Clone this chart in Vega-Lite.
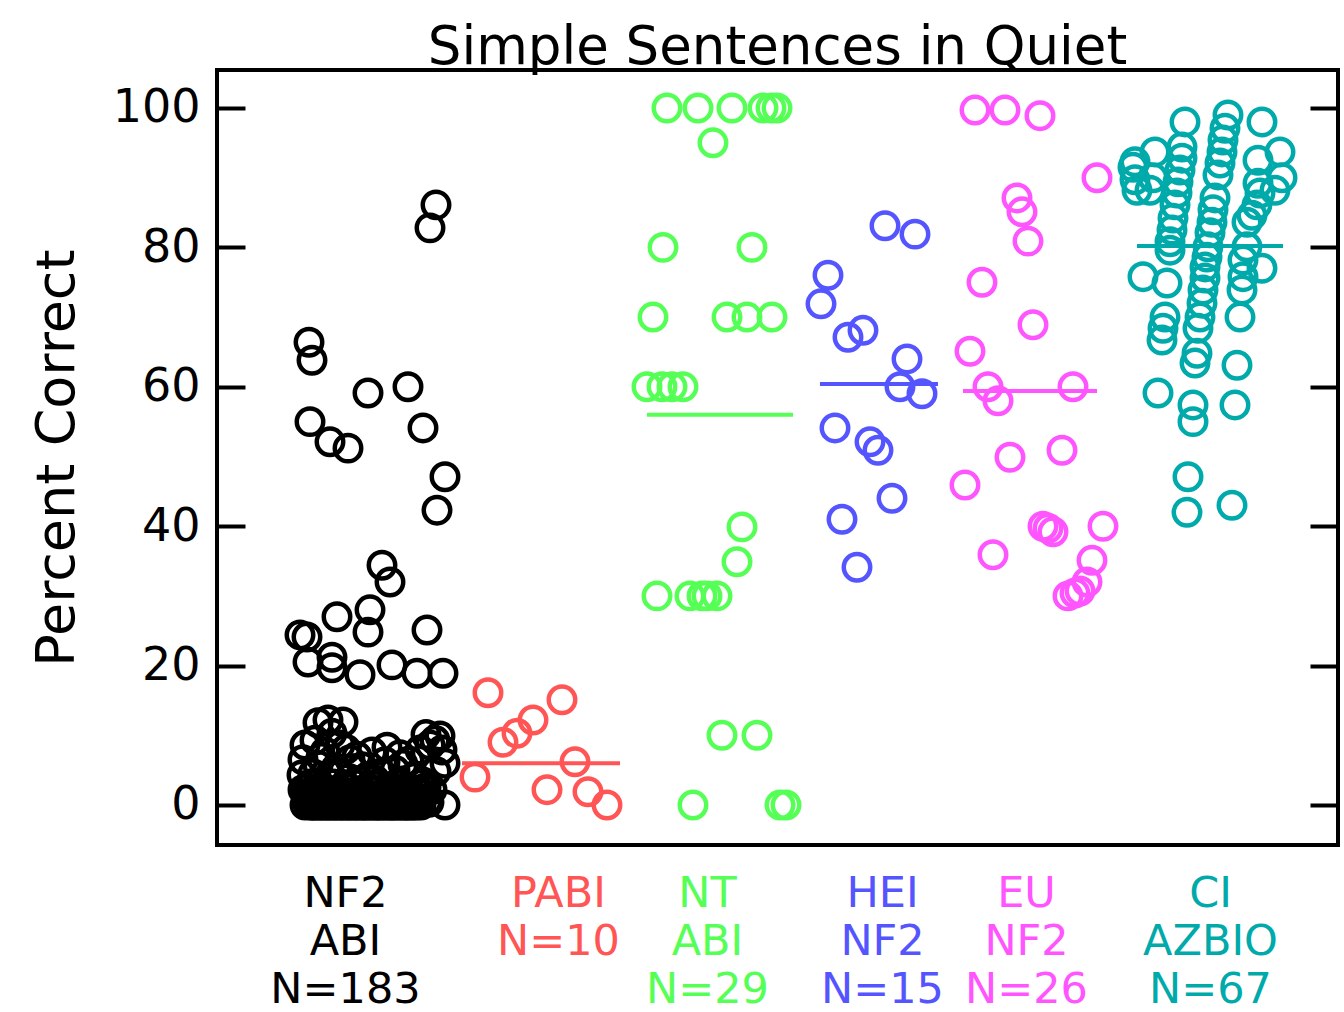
{
"$schema": "https://vega.github.io/schema/vega-lite/v6.json",
"width": 1121, "height": 775,
"autosize": "none",
"padding": {"left": 217, "top": 70, "right": 6, "bottom": 167},
"background": "white",
"config": {"view": {"stroke": "black", "strokeWidth": 4}, "font": "DejaVu Sans"},
"title": {"text": "Simple Sentences in Quiet", "fontSize": 53, "fontWeight": "normal", "color": "black", "anchor": "middle", "offset": -5, "letterSpacing": 1, "font": "DejaVu Sans"},
"datasets": {
"pts": [
{"g":"A","x":21.9,"y":86.1},{"g":"A","x":21.3,"y":82.8},{"g":"A","x":9.2,"y":66.4},{"g":"A","x":9.5,"y":63.8},{"g":"A","x":15.1,"y":59.1},{"g":"A","x":19.1,"y":60.0},{"g":"A","x":9.3,"y":55.0},{"g":"A","x":11.3,"y":52.1},{"g":"A","x":13.1,"y":51.2},{"g":"A","x":20.6,"y":54.1},{"g":"A","x":22.8,"y":47.1},{"g":"A","x":22.0,"y":42.3},
{"g":"A","x":16.5,"y":34.4},{"g":"A","x":17.3,"y":32.0},{"g":"A","x":15.3,"y":28.0},{"g":"A","x":12.0,"y":27.0},{"g":"A","x":15.1,"y":24.8},{"g":"A","x":21.0,"y":25.1},{"g":"A","x":9.0,"y":24.1},{"g":"A","x":8.3,"y":24.4},{"g":"A","x":9.1,"y":20.5},{"g":"A","x":11.5,"y":21.2},{"g":"A","x":11.5,"y":19.7},{"g":"A","x":14.3,"y":18.7},{"g":"A","x":17.5,"y":20.1},{"g":"A","x":20.0,"y":18.9},{"g":"A","x":22.6,"y":18.9},
{"g":"A","x":12.6,"y":11.9},{"g":"A","x":11.1,"y":12.2},{"g":"A","x":10.1,"y":11.8},{"g":"A","x":21.8,"y":9.3},{"g":"A","x":22.5,"y":7.9},{"g":"A","x":22.8,"y":6.0},{"g":"A","x":16.8,"y":6.2},{"g":"A","x":14.5,"y":5.5},{"g":"A","x":19.8,"y":4.0},{"g":"A","x":22.8,"y":0},
{"g":"A","x":8.8,"y":8.6},{"g":"A","x":8.6,"y":6.5},{"g":"A","x":8.5,"y":4.3},{"g":"A","x":8.6,"y":2.2},{"g":"A","x":8.8,"y":0},
{"g":"A","x":9.8,"y":9.3},{"g":"A","x":10.8,"y":7.6},{"g":"A","x":12.3,"y":8.6},{"g":"A","x":13.3,"y":6.5},{"g":"A","x":15.5,"y":7.6},{"g":"A","x":18.3,"y":7.2},{"g":"A","x":20.3,"y":7.9},{"g":"A","x":21.3,"y":8.6},{"g":"A","x":17.8,"y":5.0},{"g":"A","x":15.8,"y":3.6},{"g":"A","x":11.3,"y":4.3},{"g":"A","x":10.1,"y":5.7},{"g":"A","x":12.8,"y":2.9},{"g":"A","x":14.3,"y":1.9},{"g":"A","x":16.3,"y":1.4},{"g":"A","x":18.3,"y":2.9},{"g":"A","x":20.3,"y":1.9},{"g":"A","x":21.5,"y":2.2},{"g":"A","x":9.5,"y":1.4},{"g":"A","x":10.8,"y":2.2},{"g":"A","x":12.1,"y":1.1},
{"g":"A","x":9.3,"y":0},{"g":"A","x":9.7,"y":0},{"g":"A","x":10.2,"y":0},{"g":"A","x":10.6,"y":0},{"g":"A","x":11.1,"y":0},{"g":"A","x":11.6,"y":0},{"g":"A","x":12.0,"y":0},{"g":"A","x":12.5,"y":0},{"g":"A","x":13.0,"y":0},{"g":"A","x":13.4,"y":0},{"g":"A","x":13.9,"y":0},{"g":"A","x":14.4,"y":0},{"g":"A","x":14.8,"y":0},{"g":"A","x":15.3,"y":0},{"g":"A","x":15.8,"y":0},{"g":"A","x":16.2,"y":0},{"g":"A","x":16.7,"y":0},{"g":"A","x":17.2,"y":0},{"g":"A","x":17.6,"y":0},{"g":"A","x":18.1,"y":0},{"g":"A","x":18.6,"y":0},{"g":"A","x":19.0,"y":0},{"g":"A","x":19.5,"y":0},{"g":"A","x":20.0,"y":0},{"g":"A","x":20.4,"y":0},
{"g":"A","x":9.5,"y":0},{"g":"A","x":9.9,"y":0},{"g":"A","x":10.4,"y":0},{"g":"A","x":10.9,"y":0},{"g":"A","x":11.3,"y":0},{"g":"A","x":11.8,"y":0},{"g":"A","x":12.3,"y":0},{"g":"A","x":12.7,"y":0},{"g":"A","x":13.2,"y":0},{"g":"A","x":13.7,"y":0},{"g":"A","x":14.1,"y":0},{"g":"A","x":14.6,"y":0},{"g":"A","x":15.0,"y":0},{"g":"A","x":15.5,"y":0},{"g":"A","x":16.0,"y":0},{"g":"A","x":16.4,"y":0},{"g":"A","x":16.9,"y":0},{"g":"A","x":17.4,"y":0},{"g":"A","x":17.8,"y":0},{"g":"A","x":18.3,"y":0},{"g":"A","x":18.8,"y":0},{"g":"A","x":19.2,"y":0},{"g":"A","x":19.7,"y":0},
{"g":"A","x":9.0,"y":0.5},{"g":"A","x":10.0,"y":0.5},{"g":"A","x":11.0,"y":0.5},{"g":"A","x":12.0,"y":0.5},{"g":"A","x":13.0,"y":0.5},{"g":"A","x":14.0,"y":0.5},{"g":"A","x":15.0,"y":0.5},{"g":"A","x":16.0,"y":0.5},{"g":"A","x":17.0,"y":0.5},{"g":"A","x":18.0,"y":0.5},{"g":"A","x":19.0,"y":0.5},{"g":"A","x":20.0,"y":0.5},{"g":"A","x":21.0,"y":0.5},
{"g":"A","x":9.2,"y":1},{"g":"A","x":10.5,"y":1},{"g":"A","x":11.8,"y":1},{"g":"A","x":13.1,"y":1},{"g":"A","x":14.6,"y":1},{"g":"A","x":15.9,"y":1},{"g":"A","x":17.3,"y":1},{"g":"A","x":18.7,"y":1},{"g":"A","x":20.1,"y":1},
{"g":"A","x":8.9,"y":1.5},{"g":"A","x":10.2,"y":1.5},{"g":"A","x":11.5,"y":1.5},{"g":"A","x":13.0,"y":1.5},{"g":"A","x":14.8,"y":1.5},{"g":"A","x":16.6,"y":1.5},{"g":"A","x":18.0,"y":1.5},{"g":"A","x":19.4,"y":1.5},{"g":"A","x":20.7,"y":1.5},
{"g":"A","x":9.6,"y":2},{"g":"A","x":11.0,"y":2},{"g":"A","x":12.5,"y":2},{"g":"A","x":14.0,"y":2},{"g":"A","x":15.4,"y":2},{"g":"A","x":16.9,"y":2},{"g":"A","x":18.5,"y":2},{"g":"A","x":19.9,"y":2},
{"g":"A","x":9.0,"y":2.5},{"g":"A","x":10.6,"y":2.5},{"g":"A","x":12.9,"y":2.5},{"g":"A","x":15.1,"y":2.5},{"g":"A","x":17.5,"y":2.5},{"g":"A","x":19.1,"y":2.5},{"g":"A","x":20.9,"y":2.5},
{"g":"A","x":9.4,"y":3},{"g":"A","x":11.6,"y":3},{"g":"A","x":13.7,"y":3},{"g":"A","x":16.0,"y":3},{"g":"A","x":18.0,"y":3},{"g":"A","x":20.3,"y":3},
{"g":"A","x":9.6,"y":4.5},{"g":"A","x":11.9,"y":5.3},{"g":"A","x":13.2,"y":3.8},{"g":"A","x":16.4,"y":4.6},{"g":"A","x":18.6,"y":5.8},{"g":"A","x":20.6,"y":3.3},{"g":"A","x":21.9,"y":4.8},{"g":"A","x":10.4,"y":6.8},{"g":"A","x":14.0,"y":7.0},{"g":"A","x":17.0,"y":8.3},{"g":"A","x":19.2,"y":6.3},{"g":"A","x":12.9,"y":8.0},{"g":"A","x":11.5,"y":10.3},{"g":"A","x":20.9,"y":10.1},{"g":"A","x":22.3,"y":9.9},{"g":"A","x":16.1,"y":2.0},{"g":"A","x":13.6,"y":5.2},{"g":"A","x":15.0,"y":4.0},{"g":"A","x":19.8,"y":1.0},{"g":"A","x":21.2,"y":0.4},
{"g":"P","x":27.1,"y":16.1},{"g":"P","x":34.5,"y":15.1},{"g":"P","x":31.6,"y":12.2},{"g":"P","x":30.0,"y":10.3},{"g":"P","x":28.6,"y":9.0},{"g":"P","x":25.8,"y":4.0},{"g":"P","x":35.8,"y":6.2},{"g":"P","x":33.0,"y":2.2},{"g":"P","x":37.1,"y":1.9},{"g":"P","x":39.0,"y":0},
{"g":"N","x":45.0,"y":100},{"g":"N","x":48.1,"y":100},{"g":"N","x":51.5,"y":100},{"g":"N","x":54.6,"y":100},{"g":"N","x":55.4,"y":100},{"g":"N","x":56.0,"y":100},{"g":"N","x":49.6,"y":95.0},{"g":"N","x":44.6,"y":80.0},{"g":"N","x":53.5,"y":80.0},
{"g":"N","x":43.6,"y":70},{"g":"N","x":51.0,"y":70},{"g":"N","x":53.0,"y":70},{"g":"N","x":55.5,"y":70},
{"g":"N","x":43.0,"y":60},{"g":"N","x":44.5,"y":60},{"g":"N","x":45.5,"y":60},{"g":"N","x":46.6,"y":60},
{"g":"N","x":52.5,"y":39.9},{"g":"N","x":52.0,"y":34.9},
{"g":"N","x":44.0,"y":30},{"g":"N","x":47.3,"y":30},{"g":"N","x":48.5,"y":30},{"g":"N","x":49.0,"y":30},{"g":"N","x":50.0,"y":30},
{"g":"N","x":50.5,"y":10},{"g":"N","x":54.0,"y":10},{"g":"N","x":47.6,"y":0},{"g":"N","x":56.3,"y":0},{"g":"N","x":56.9,"y":0},
{"g":"H","x":66.8,"y":83.1},{"g":"H","x":69.8,"y":81.9},{"g":"H","x":61.1,"y":76.0},{"g":"H","x":60.4,"y":71.9},{"g":"H","x":63.1,"y":67.1},{"g":"H","x":64.6,"y":68.1},{"g":"H","x":69.0,"y":64.0},{"g":"H","x":68.3,"y":60.0},{"g":"H","x":70.5,"y":59.0},{"g":"H","x":61.8,"y":54.1},{"g":"H","x":65.3,"y":52.1},{"g":"H","x":66.1,"y":50.9},{"g":"H","x":67.5,"y":44.0},{"g":"H","x":62.5,"y":41.0},{"g":"H","x":64.0,"y":34.1},
{"g":"E","x":75.8,"y":99.7},{"g":"E","x":78.8,"y":99.7},{"g":"E","x":82.3,"y":98.9},{"g":"E","x":88.0,"y":90.0},{"g":"E","x":80.0,"y":87.1},{"g":"E","x":80.5,"y":85.1},{"g":"E","x":81.1,"y":80.9},{"g":"E","x":76.5,"y":75.0},{"g":"E","x":81.6,"y":68.9},{"g":"E","x":75.3,"y":65.1},{"g":"E","x":77.1,"y":60.0},{"g":"E","x":78.1,"y":58.0},{"g":"E","x":85.6,"y":60.0},{"g":"E","x":79.3,"y":49.9},{"g":"E","x":84.5,"y":50.9},{"g":"E","x":74.8,"y":45.9},{"g":"E","x":82.6,"y":40.0},{"g":"E","x":83.1,"y":39.7},{"g":"E","x":83.6,"y":39.2},{"g":"E","x":88.6,"y":40.0},{"g":"E","x":77.6,"y":35.9},{"g":"E","x":87.5,"y":35.1},{"g":"E","x":87.0,"y":32.0},{"g":"E","x":86.3,"y":30.7},{"g":"E","x":85.8,"y":30.4},{"g":"E","x":85.1,"y":30.0},
{"g":"C","x":96.8,"y":98.0},{"g":"C","x":101.1,"y":99.0},{"g":"C","x":104.5,"y":98.0},{"g":"C","x":93.8,"y":93.7},{"g":"C","x":106.3,"y":93.7},{"g":"C","x":91.8,"y":92.3},{"g":"C","x":96.5,"y":94.4},{"g":"C","x":96.5,"y":92.8},{"g":"C","x":96.3,"y":91.1},{"g":"C","x":96.1,"y":89.4},{"g":"C","x":96.0,"y":87.8},{"g":"C","x":95.8,"y":86.1},{"g":"C","x":95.6,"y":84.2},{"g":"C","x":95.5,"y":82.5},{"g":"C","x":95.3,"y":80.8},{"g":"C","x":91.6,"y":91.5},{"g":"C","x":91.8,"y":89.7},{"g":"C","x":92.0,"y":88.2},{"g":"C","x":93.6,"y":90.0},{"g":"C","x":93.3,"y":88.2},
{"g":"C","x":100.8,"y":97.1},{"g":"C","x":100.6,"y":95.4},{"g":"C","x":100.5,"y":93.7},{"g":"C","x":100.3,"y":92.1},{"g":"C","x":100.1,"y":90.4},{"g":"C","x":99.8,"y":87.1},{"g":"C","x":99.6,"y":85.4},{"g":"C","x":99.5,"y":83.6},{"g":"C","x":99.3,"y":82.1},{"g":"C","x":99.1,"y":80.1},{"g":"C","x":99.0,"y":78.6},
{"g":"C","x":104.1,"y":92.5},{"g":"C","x":104.1,"y":89.2},{"g":"C","x":104.3,"y":87.8},{"g":"C","x":104.0,"y":86.1},{"g":"C","x":103.5,"y":84.6},{"g":"C","x":103.0,"y":83.6},{"g":"C","x":103.0,"y":80.1},{"g":"C","x":106.5,"y":90.0},{"g":"C","x":105.8,"y":88.2},
{"g":"C","x":92.6,"y":75.8},{"g":"C","x":95.0,"y":74.9},{"g":"C","x":104.5,"y":77.0},{"g":"C","x":95.3,"y":79.6},{"g":"C","x":98.8,"y":77.2},{"g":"C","x":98.8,"y":75.6},{"g":"C","x":98.6,"y":73.9},{"g":"C","x":98.5,"y":72.0},{"g":"C","x":98.3,"y":70.0},{"g":"C","x":98.1,"y":68.4},{"g":"C","x":98.0,"y":64.8},{"g":"C","x":97.8,"y":63.4},
{"g":"C","x":102.6,"y":78.2},{"g":"C","x":102.6,"y":75.8},{"g":"C","x":102.5,"y":73.9},{"g":"C","x":102.3,"y":70.0},{"g":"C","x":94.8,"y":70.0},{"g":"C","x":94.6,"y":68.4},{"g":"C","x":94.5,"y":66.7},{"g":"C","x":102.0,"y":63.1},{"g":"C","x":94.1,"y":59.1},{"g":"C","x":97.6,"y":57.4},{"g":"C","x":97.6,"y":55.0},{"g":"C","x":101.8,"y":57.4},{"g":"C","x":97.1,"y":47.1},{"g":"C","x":97.0,"y":42.0},{"g":"C","x":101.5,"y":43.0}
],
"med": [
{"g":"P","x1":24.5,"x2":40.3,"y":6.0},{"g":"N","x1":43.0,"x2":57.6,"y":56.0},{"g":"H","x1":60.3,"x2":72.1,"y":60.4},{"g":"E","x1":74.6,"x2":88.0,"y":59.4},{"g":"C","x1":92.0,"x2":106.6,"y":80.2}
]
},
"layer": [
{
"data": {"name": "pts"},
"mark": {"type": "point", "shape": "circle", "filled": false, "size": 700, "strokeWidth": 4.5, "opacity": 1},
"encoding": {
"x": {"field": "x", "type": "quantitative", "scale": {"domain": [0, 112.1], "nice": false, "zero": false},
 "axis": {"orient": "bottom", "values": [12.8, 34.1, 49.0, 66.5, 80.9, 99.3], "ticks": false, "domain": false, "grid": false, "title": null,
  "labelExpr": "datum.value < 20 ? ['NF2','ABI','N=183'] : datum.value < 40 ? ['PABI','N=10'] : datum.value < 55 ? ['NT','ABI','N=29'] : datum.value < 70 ? ['HEI','NF2','N=15'] : datum.value < 90 ? ['EU','NF2','N=26'] : ['CI','AZBIO','N=67']",
  "labelFontSize": 43, "labelLineHeight": 48, "labelBaseline": "top", "labelPadding": 27, "labelOverlap": false, "labelFlush": false, "labelBound": false, "labelFont": "DejaVu Sans",
  "labelColor": {"condition": [{"test": "datum.value < 20", "value": "#000000"}, {"test": "datum.value < 40", "value": "#ff5555"}, {"test": "datum.value < 55", "value": "#55ff55"}, {"test": "datum.value < 70", "value": "#5555ff"}, {"test": "datum.value < 90", "value": "#ff55ff"}], "value": "#00aaaa"}}},
"y": {"field": "y", "type": "quantitative", "scale": {"domain": [-5.74, 105.45], "nice": false, "zero": false},
 "axis": {"orient": "left", "values": [0, 20, 40, 60, 80, 100], "tickSize": -28, "tickWidth": 4, "tickColor": "black", "domain": false, "grid": false,
  "labelPadding": 45, "labelFontSize": 46, "labelColor": "black", "labelFont": "DejaVu Sans",
  "title": "Percent Correct", "titleFontSize": 54, "titleFontWeight": "normal", "titleColor": "black", "titlePadding": 28, "titleFont": "DejaVu Sans"}},
"color": {"field": "g", "type": "nominal", "scale": {"domain": ["A","P","N","H","E","C"], "range": ["#000000","#ff5555","#55ff55","#5555ff","#ff55ff","#00aaaa"]}, "legend": null}
}
},
{
"data": {"name": "med"},
"mark": {"type": "rule", "strokeWidth": 4},
"encoding": {
"x": {"field": "x1", "type": "quantitative"},
"x2": {"field": "x2"},
"y": {"field": "y", "type": "quantitative",
 "axis": {"orient": "right", "values": [0, 20, 40, 60, 80, 100], "tickSize": -28, "tickWidth": 4, "tickColor": "black", "labels": false, "domain": false, "grid": false, "title": null}},
"color": {"field": "g", "type": "nominal", "legend": null}
}
}
],
"resolve": {"axis": {"y": "independent"}}
}
